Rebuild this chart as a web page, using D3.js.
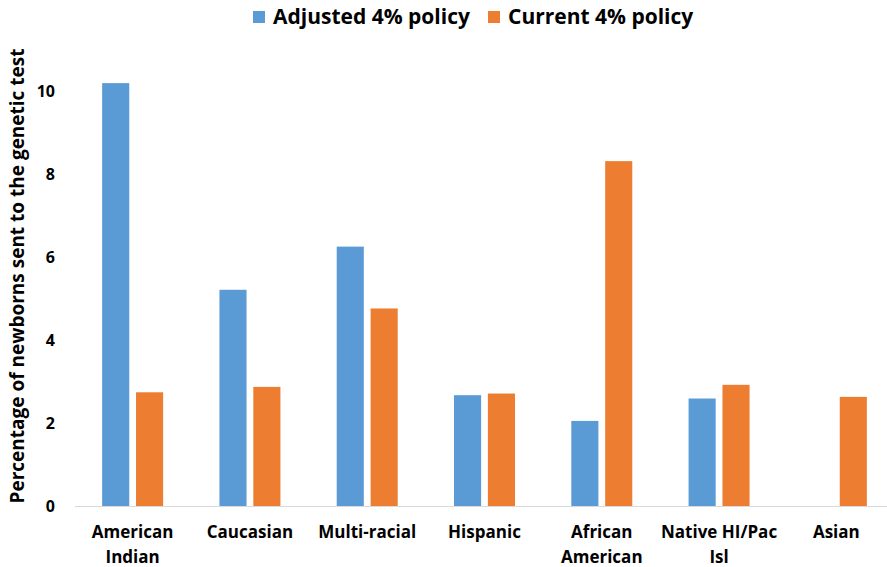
<!DOCTYPE html>
<html>
<head>
<meta charset="utf-8">
<script src="https://cdn.jsdelivr.net/npm/d3@7"></script>
<style>
  html, body { margin: 0; padding: 0; background: #ffffff; }
  svg { display: block; }
  text { font-family: "Open Sans", Lato, sans-serif; font-weight: bold; fill: #000; }
</style>
</head>
<body>
<svg id="chart" width="887" height="567"></svg>
<script>
// Racial groups along the x axis (multi-line labels split on "\n")
const categories = [
  "American\nIndian",
  "Caucasian",
  "Multi-racial",
  "Hispanic",
  "African\nAmerican",
  "Native HI/Pac\nIsl",
  "Asian"
];
const seriesNames = ["Adjusted 4% policy", "Current 4% policy"];
const seriesColors = ["#5B9BD5", "#ED7D31"];
// Percentage of newborns sent to the genetic test
const adjustedValues = [10.19, 5.21, 6.25, 2.67, 2.05, 2.59, 0];
const currentValues  = [2.74, 2.87, 4.76, 2.71, 8.31, 2.92, 2.63];
const yTicks = [0, 2, 4, 6, 8, 10];

const svg = d3.select("#chart");

const x0 = d3.scaleBand()
  .domain(categories)
  .range([74, 895])
  .paddingInner(0.48)
  .paddingOuter(0.24);

const x1 = d3.scaleBand()
  .domain(seriesNames)
  .range([0, x0.bandwidth()])
  .paddingInner(0.2);

const y = d3.scaleLinear().domain([0, 10]).range([506, 91]);

const color = d3.scaleOrdinal().domain(seriesNames).range(seriesColors);

const rows = categories.map((c, i) => ({
  cat: c,
  vals: [
    { s: seriesNames[0], v: adjustedValues[i] },
    { s: seriesNames[1], v: currentValues[i] }
  ]
}));

// Bars
const groups = svg.append("g").selectAll("g")
  .data(rows).join("g")
  .attr("transform", d => `translate(${x0(d.cat)},0)`);

groups.selectAll("rect")
  .data(d => d.vals.filter(e => e.v > 0))
  .join("rect")
  .attr("x", e => x1(e.s))
  .attr("width", x1.bandwidth())
  .attr("y", e => y(e.v))
  .attr("height", e => y(0) - y(e.v))
  .attr("fill", e => color(e.s));

// Baseline
svg.append("line")
  .attr("x1", 75).attr("x2", 887)
  .attr("y1", y(0) + 0.5).attr("y2", y(0) + 0.5)
  .attr("stroke", "#d9d9d9").attr("stroke-width", 1);

// Y tick labels
const yAxis = d3.axisLeft(y).tickValues(yTicks).tickSize(0).tickPadding(0);
const yg = svg.append("g").attr("transform", "translate(55,0)").call(yAxis);
yg.select(".domain").remove();
yg.selectAll("text")
  .attr("font-size", 16)
  .attr("font-family", "'Open Sans', sans-serif")
  .attr("font-weight", "bold")
  .attr("fill", "#000");

// X category labels
const xl = svg.append("g").selectAll("text")
  .data(categories).join("text")
  .attr("x", d => x0(d) + x0.bandwidth() / 2)
  .attr("y", 538)
  .attr("text-anchor", "middle")
  .attr("font-size", 17);
xl.selectAll("tspan")
  .data(d => d.split("\n"))
  .join("tspan")
  .attr("x", function() { return this.parentNode.getAttribute("x"); })
  .attr("dy", (d, i) => i === 0 ? 0 : 25)
  .text(d => d);

// Y axis title
svg.append("text")
  .attr("transform", "translate(24,276) rotate(-90)")
  .attr("text-anchor", "middle")
  .attr("font-size", 19)
  .text("Percentage of newborns sent to the genetic test");

// Legend
const legend = svg.append("g");
const legendX = [253, 488];
seriesNames.forEach((s, i) => {
  legend.append("rect")
    .attr("x", legendX[i]).attr("y", 11)
    .attr("width", 12).attr("height", 12)
    .attr("fill", seriesColors[i]);
  legend.append("text")
    .attr("x", legendX[i] + 20).attr("y", 24)
    .attr("font-size", 21)
    .text(s);
});
</script>
</body>
</html>
